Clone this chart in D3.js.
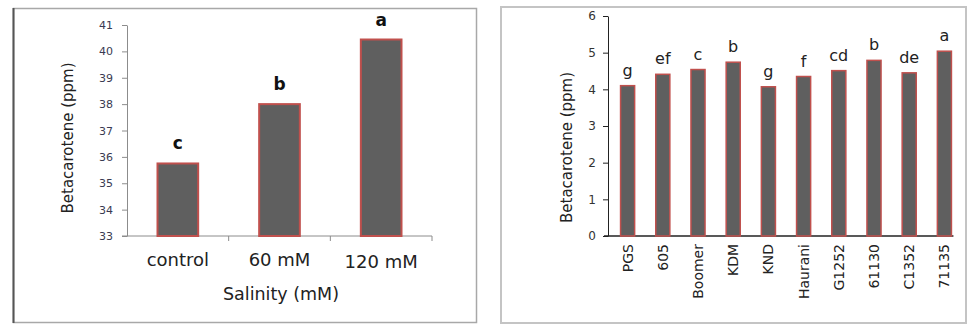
<!DOCTYPE html>
<html>
<head>
<meta charset="utf-8">
<script src="https://cdn.jsdelivr.net/npm/d3@7"></script>
<style>
  html, body { margin: 0; padding: 0; background: #fff; }
  svg { display: block; }
  text { font-family: "DejaVu Sans", sans-serif; }
</style>
</head>
<body>
<svg id="chart" width="977" height="330"></svg>
<script>
// ---- Data: left chart (salinity) ----
const salinityCategories = ["control", "60 mM", "120 mM"];
const salinityValues = [35.75, 38.0, 40.45];
const salinityLetters = ["c", "b", "a"];
const salinityTicks = [33, 34, 35, 36, 37, 38, 39, 40, 41];

// ---- Data: right chart (genotypes) ----
const genotypeCategories = ["PGS", "605", "Boomer", "KDM", "KND", "Haurani", "G1252", "61130", "C1352", "71135"];
const genotypeValues = [4.10, 4.41, 4.54, 4.74, 4.07, 4.35, 4.51, 4.79, 4.45, 5.04];
const genotypeLetters = ["g", "ef", "c", "b", "g", "f", "cd", "b", "de", "a"];
const genotypeTicks = [0, 1, 2, 3, 4, 5, 6];

const svg = d3.select("#chart");

const barFill = "#5f5f5f";
const barStroke = "#c0504d";

// ================= LEFT PANEL =================
const L = svg.append("g");
L.append("rect").attr("x", 13.5).attr("y", 8.5).attr("width", 463).attr("height", 314)
  .attr("fill", "none").attr("stroke", "#a8a8a8").attr("stroke-width", 1.5);
L.append("line").attr("x1", 13.5).attr("x2", 13.5).attr("y1", 8).attr("y2", 323)
  .attr("stroke", "#555").attr("stroke-width", 2);

const lx = d3.scaleBand().domain(salinityCategories).range([127, 432]).paddingInner(0.6).paddingOuter(0.3);
const ly = d3.scaleLinear().domain([33, 41]).range([236, 25]);
const lAxisColor = "#8c8c8c";

// y axis
const lyAxis = L.append("g").attr("transform", "translate(127,0)")
  .call(d3.axisLeft(ly).tickValues(salinityTicks).tickFormat(d3.format("d")).tickSize(5).tickPadding(9).tickSizeOuter(0));
lyAxis.select(".domain").attr("stroke", lAxisColor);
lyAxis.selectAll(".tick line").attr("stroke", lAxisColor);
lyAxis.selectAll(".tick text").attr("fill", "#3a3a52").style("font-size", "11px").style("font-family", "DejaVu Sans");

// x axis line and category boundary ticks
L.append("line").attr("x1", 122).attr("x2", 432).attr("y1", ly(33)).attr("y2", ly(33))
  .attr("stroke", lAxisColor).attr("stroke-width", 1);
const lStep = lx.step();
const lBoundaries = salinityCategories.map((c, i) => lx(c) - lx.paddingOuter() * lStep + lStep);
L.selectAll(".lbound").data(lBoundaries).join("line")
  .attr("x1", d => d).attr("x2", d => d).attr("y1", ly(33)).attr("y2", ly(33) + 5)
  .attr("stroke", lAxisColor);

// bars
L.selectAll(".lbar").data(salinityValues).join("rect")
  .attr("x", (d, i) => lx(salinityCategories[i]))
  .attr("y", d => ly(d))
  .attr("width", lx.bandwidth())
  .attr("height", d => ly(33) - ly(d))
  .attr("fill", barFill).attr("stroke", barStroke).attr("stroke-width", 2);

// letters
L.selectAll(".llet").data(salinityValues).join("text")
  .attr("x", (d, i) => lx(salinityCategories[i]) + lx.bandwidth() / 2)
  .attr("y", d => ly(d) - 14)
  .attr("text-anchor", "middle")
  .style("font-size", "17px").style("font-weight", "bold").attr("fill", "#111")
  .text((d, i) => salinityLetters[i]);

// category labels
L.selectAll(".lcat").data(salinityCategories).join("text")
  .attr("x", d => lx(d) + lx.bandwidth() / 2)
  .attr("y", (d, i) => 266 + (i === 2 ? 2 : 0))
  .attr("text-anchor", "middle")
  .style("font-size", "18px").attr("fill", "#222")
  .text(d => d);

// titles
L.append("text").attr("x", 281).attr("y", 300).attr("text-anchor", "middle")
  .style("font-size", "17.5px").attr("fill", "#222").text("Salinity (mM)");
L.append("text").attr("transform", "translate(68,138) rotate(-90)")
  .attr("text-anchor", "middle").attr("dy", "0.35em")
  .style("font-size", "15px").attr("fill", "#222").text("Betacarotene (ppm)");

// ================= RIGHT PANEL =================
const R = svg.append("g");
R.append("rect").attr("x", 501).attr("y", 7).attr("width", 465).attr("height", 316)
  .attr("fill", "none").attr("stroke", "#c4c4c4").attr("stroke-width", 2);

const rx = d3.scaleBand().domain(genotypeCategories).range([610, 962]).paddingInner(0.6).paddingOuter(0.3);
const ry = d3.scaleLinear().domain([0, 6]).range([236, 16]);
const rAxisColor = "#222";

const ryAxis = R.append("g").attr("transform", "translate(608,0)")
  .call(d3.axisLeft(ry).tickValues(genotypeTicks).tickFormat(d3.format("d")).tickSize(5).tickPadding(7).tickSizeOuter(0));
ryAxis.select(".domain").attr("stroke", rAxisColor);
ryAxis.selectAll(".tick line").attr("stroke", rAxisColor);
ryAxis.selectAll(".tick text").attr("fill", "#333").style("font-size", "12px").style("font-family", "DejaVu Sans");

const lastCat = genotypeCategories[genotypeCategories.length - 1];
R.append("line").attr("x1", 604).attr("x2", rx(lastCat) + rx.bandwidth() + 2)
  .attr("y1", ry(0)).attr("y2", ry(0)).attr("stroke", rAxisColor).attr("stroke-width", 1.5);

R.selectAll(".rbar").data(genotypeValues).join("rect")
  .attr("x", (d, i) => rx(genotypeCategories[i]))
  .attr("y", d => ry(d))
  .attr("width", rx.bandwidth())
  .attr("height", d => ry(0) - ry(d))
  .attr("fill", barFill).attr("stroke", barStroke).attr("stroke-width", 1.5);

R.selectAll(".rlet").data(genotypeValues).join("text")
  .attr("x", (d, i) => rx(genotypeCategories[i]) + rx.bandwidth() / 2)
  .attr("y", d => ry(d) - 10)
  .attr("text-anchor", "middle")
  .style("font-size", "16px").attr("fill", "#222")
  .text((d, i) => genotypeLetters[i]);

R.selectAll(".rcat").data(genotypeCategories).join("text")
  .attr("transform", d => `translate(${rx(d) + rx.bandwidth() / 2},244) rotate(-90)`)
  .attr("text-anchor", "end").attr("dy", "0.35em")
  .style("font-size", "14px").attr("fill", "#222")
  .text(d => d);

R.append("text").attr("transform", "translate(567,147.5) rotate(-90)")
  .attr("text-anchor", "middle").attr("dy", "0.35em")
  .style("font-size", "15px").attr("fill", "#222").text("Betacarotene (ppm)");
</script>
</body>
</html>
